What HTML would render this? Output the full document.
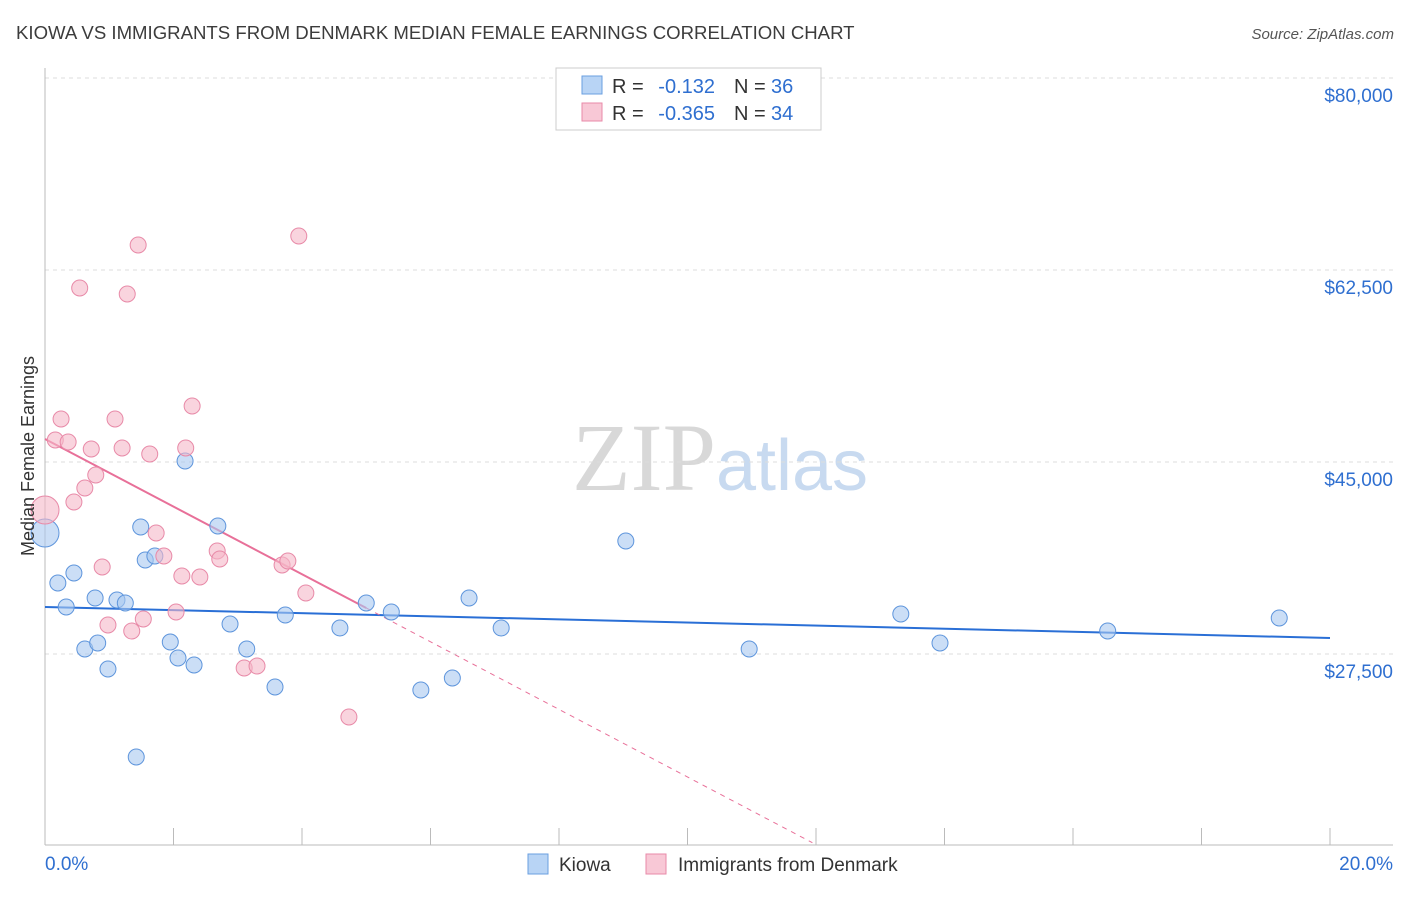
<!DOCTYPE html>
<html><head><meta charset="utf-8">
<style>
body{margin:0;background:#fff;font-family:"Liberation Sans",sans-serif;}
svg text{font-family:"Liberation Sans",sans-serif;}
</style></head>
<body>
<svg id="chart" width="1406" height="892" viewBox="0 0 1406 892" xmlns="http://www.w3.org/2000/svg">
<text x="16" y="39" font-size="18.6" fill="#3c3c3c">KIOWA VS IMMIGRANTS FROM DENMARK MEDIAN FEMALE EARNINGS CORRELATION CHART</text>
<text x="1394" y="39" font-size="15" fill="#555" font-style="italic" text-anchor="end">Source: ZipAtlas.com</text>
<text x="720" y="490" font-size="96" text-anchor="middle"><tspan fill="#d8d8d8" font-family="Liberation Serif">ZIP</tspan><tspan fill="#c8daf0" font-size="72">atlas</tspan></text>
<g id="grid"></g>
<g id="axes"></g>
<g id="trends"></g>
<g id="points"></g>
<text transform="translate(34,456) rotate(-90)" font-size="18" fill="#333" text-anchor="middle">Median Female Earnings</text>
<g>
<rect x="556" y="68" width="265" height="62" fill="#fff" stroke="#ccc"/>
<rect x="582" y="76" width="20" height="18" fill="#b8d4f5" stroke="#6a9fe0"/>
<text x="612" y="93" font-size="20" fill="#333">R =</text>
<text x="715" y="93" font-size="20" fill="#2f6fd0" text-anchor="end">-0.132</text>
<text x="734" y="93" font-size="20" fill="#333">N =</text>
<text x="771" y="93" font-size="20" fill="#2f6fd0">36</text>
<rect x="582" y="103" width="20" height="18" fill="#f8c8d6" stroke="#e88aa8"/>
<text x="612" y="120" font-size="20" fill="#333">R =</text>
<text x="715" y="120" font-size="20" fill="#2f6fd0" text-anchor="end">-0.365</text>
<text x="734" y="120" font-size="20" fill="#333">N =</text>
<text x="771" y="120" font-size="20" fill="#2f6fd0">34</text>
</g>
<g>
<rect x="528" y="854" width="20" height="20" fill="#b8d4f5" stroke="#6a9fe0"/>
<text x="559" y="871" font-size="19" fill="#333">Kiowa</text>
<rect x="646" y="854" width="20" height="20" fill="#f8c8d6" stroke="#e88aa8"/>
<text x="678" y="871" font-size="19" fill="#333">Immigrants from Denmark</text>
</g>
</svg>
<script>
const kiowaX=[0.00,0.20,0.33,0.45,0.62,0.78,0.82,0.98,1.12,1.25,1.42,1.49,1.56,1.71,1.95,2.07,2.18,2.32,2.69,2.88,3.14,3.58,3.74,4.59,5.00,5.39,5.85,6.34,6.60,7.10,9.04,10.96,13.32,13.93,16.54,19.21];
const kiowaY=[38528,33971,31783,34882,27955,32604,28502,26132,32421,32148,18111,39075,36067,36432,28593,27135,45091,26496,39166,30234,27955,24491,31054,29869,32148,31328,24218,25312,32604,29869,37799,27955,31145,28502,29596,30781];
const denX=[0.00,0.16,0.25,0.36,0.45,0.62,0.72,0.79,0.89,0.98,1.09,1.20,1.28,1.35,1.45,1.53,1.63,1.73,1.85,2.04,2.13,2.19,2.29,2.41,2.68,2.72,3.10,3.30,3.69,3.78,3.95,4.06,4.73,0.54];
const denY=[40625,47005,48919,46823,41354,42630,46185,43815,35429,30143,48919,46276,60313,29596,64779,30690,45729,38528,36432,31328,34609,46276,50104,34518,36888,36158,26223,26406,35612,35976,65600,33059,21757,60860];
const yTicks=[80000,62500,45000,27500];
const yTickLabels=["$80,000","$62,500","$45,000","$27,500"];
const kiowaTrend=[31783,28957];
const denTrend=[47096,31692];
const NS="http://www.w3.org/2000/svg";
const X=p=>45+(p/20)*1285;
const Y=v=>462-(v-45000)*0.010971;
function mk(tag,attrs,parent){const e=document.createElementNS(NS,tag);for(const k in attrs)e.setAttribute(k,attrs[k]);document.getElementById(parent).appendChild(e);return e;}
yTicks.forEach((v,i)=>{
  const l=mk('line',{x1:45,x2:1393,y1:Y(v),y2:Y(v),stroke:'#ddd','stroke-dasharray':'4,4'},'grid');
  
  
  const t=mk('text',{x:1393,y:Y(v)+24,'font-size':19,fill:'#2f6fd0','text-anchor':'end'},'grid');
  
  
  t.textContent=yTickLabels[i];
});
mk('line',{x1:45,x2:45,y1:68,y2:845,stroke:'#bbb'},'axes');
mk('line',{x1:45,x2:1393,y1:845,y2:845,stroke:'#bbb'},'axes');
for(let p=0;p<=20;p+=2){
  const t=mk('line',{x1:X(p),x2:X(p),y1:828,y2:845,stroke:'#bbb'},'axes');
  
  
}
const xl=mk('text',{x:45,y:870,'font-size':19,fill:'#2f6fd0'},'axes');


xl.textContent='0.0%';
const xr=mk('text',{x:1393,y:870,'font-size':19,fill:'#2f6fd0','text-anchor':'end'},'axes');


xr.textContent='20.0%';
const kt=mk('line',{x1:X(0),y1:Y(kiowaTrend[0]),x2:X(20),y2:Y(kiowaTrend[1]),stroke:'#2a6fd6','stroke-width':2},'trends');


const slope=(denTrend[1]-denTrend[0])/5;
const endP=Math.min(20,(10300-denTrend[0])/slope);
const dd=mk('line',{x1:X(5),y1:Y(denTrend[1]),x2:X(endP),y2:Y(denTrend[0]+slope*endP),stroke:'#e87099','stroke-width':1,'stroke-dasharray':'5,5'},'trends');


const ds=mk('line',{x1:X(0),y1:Y(denTrend[0]),x2:X(5),y2:Y(denTrend[1]),stroke:'#e87099','stroke-width':2},'trends');


function pts(xs,ys,fill,stroke,name){
  xs.forEach((x,i)=>{
    const r=(x===0)?14:8;
    const c=mk('circle',{cx:X(x),cy:Y(ys[i]),r:r,fill:fill,'fill-opacity':0.6,stroke:stroke,'stroke-width':1},'points');
    
    
  });
}
pts(kiowaX,kiowaY,'#a8c8f0','#5e95dc','kiowa-point');
pts(denX,denY,'#f5b8c8','#e88aa8','denmark-point');
</script>
</body></html>
